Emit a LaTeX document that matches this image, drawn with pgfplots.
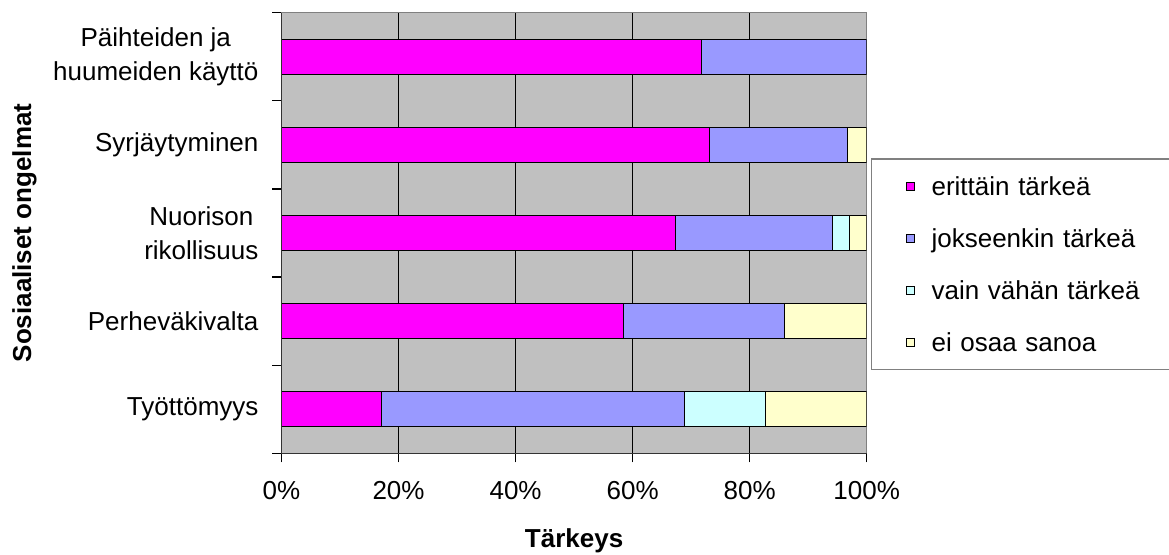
\documentclass[border=0pt]{standalone}
\usepackage{fontspec}
\setmainfont{Liberation Sans}
\usepackage{pgfplots}
\pgfplotsset{compat=1.18}

\definecolor{cErittain}{HTML}{FF00FF}
\definecolor{cJokseenkin}{HTML}{9999FF}
\definecolor{cVahan}{HTML}{CCFFFF}
\definecolor{cEiOsaa}{HTML}{FFFFCC}
\definecolor{plotbg}{HTML}{C0C0C0}

\newcommand{\lbl}{\fontsize{13}{17}\selectfont}

\begin{document}
\begin{tikzpicture}
\useasboundingbox (0,0) rectangle (584.5pt,277pt);
\begin{axis}[
  at={(140.75pt,50.35pt)}, anchor=south west,
  scale only axis, width=292.6pt, height=220.3pt,
  xbar stacked, bar width=17.5pt,
  xmin=0, xmax=100, ymin=-0.5, ymax=4.5,
  axis background/.style={fill=plotbg},
  axis line style={draw=gray, line width=0.6pt},
  tick align=outside,
  xtick pos=bottom, ytick pos=left,
  xtick={0,20,40,60,80,100},
  xticklabels={0\%,20\%,40\%,60\%,80\%,100\%},
  % category boundaries carry the tick marks
  ytick={-0.5,0.5,1.5,2.5,3.5,4.5},
  yticklabels={},
  % category names sit between them
  extra y ticks={0,1,2,3,4},
  extra y tick labels={Työttömyys,Perheväkivalta,{Nuorison\\rikollisuus},Syrjäytyminen,{Päihteiden ja\\huumeiden käyttö}},
  extra y tick style={major tick length=0pt, tick style={draw=none},
    yticklabel style={align=center, xshift=-8pt}},
  major tick length=4.5pt,
  tick style={black, line width=0.6pt},
  xmajorgrids=true,
  major grid style={black, line width=0.5pt},
  ticklabel style={font=\lbl},
  xticklabel style={yshift=-6pt},
  xlabel={\bfseries Tärkeys},
  ylabel={\bfseries Sosiaaliset ongelmat},
  label style={font=\lbl},
  xlabel style={at={(axis description cs:0.5,-0.2127)}, anchor=base},
  ylabel style={at={(axis description cs:-0.428,0.5)}, anchor=base},
  every axis plot/.append style={draw=black, line width=0.5pt},
  legend cell align=left,
  legend image code/.code={\draw[#1, line width=0.5pt] (0pt,-2.1pt) rectangle (4.2pt,2.1pt);},
  legend style={at={(1.0073,0.6695)}, anchor=north west,
    draw=gray, line width=0.6pt, fill=white,
    inner xsep=17pt, inner ysep=7.2pt,
    row sep=13pt, column sep=8.3pt,
    font=\lbl,
    nodes={inner sep=0pt, text height=11.2pt, text depth=1.8pt, text width=120pt}},
  after end axis/.code={
    \draw[black!80, line width=0.6pt] (rel axis cs:0,1) -- (rel axis cs:0,0) -- (rel axis cs:1,0);
  },
]
\addplot[fill=cErittain] coordinates {(17.1,0) (58.5,1) (67.4,2) (73.2,3) (71.7,4)};
\addplot[fill=cJokseenkin] coordinates {(51.8,0) (27.4,1) (26.7,2) (23.6,3) (28.3,4)};
\addplot[fill=cVahan] coordinates {(13.8,0) (0,1) (2.9,2) (0,3) (0,4)};
\addplot[fill=cEiOsaa] coordinates {(17.3,0) (14.1,1) (3.0,2) (3.2,3) (0,4)};
\legend{erittäin tärkeä, jokseenkin tärkeä, vain vähän tärkeä, ei osaa sanoa}
\end{axis}
\end{tikzpicture}
\end{document}
